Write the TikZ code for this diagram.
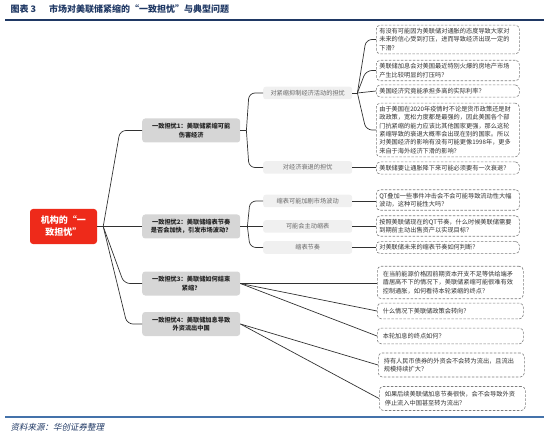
\documentclass[tikz,border=0pt]{standalone}
\usepackage{fontspec}
\setmainfont{Noto Sans CJK SC}
\newfontfamily\footfont[FakeSlant=0.2]{Noto Sans CJK SC}
\usetikzlibrary{positioning}
\definecolor{navy}{RGB}{31,56,100}
\definecolor{rulebl}{RGB}{68,114,170}
\definecolor{rootred}{RGB}{238,42,26}
\definecolor{lvone}{RGB}{214,214,214}
\definecolor{lvtwo}{RGB}{240,240,240}
\definecolor{txtgray}{RGB}{105,105,105}
\definecolor{linegray}{RGB}{50,50,50}
\definecolor{dashgray}{RGB}{125,125,125}

\tikzset{
  rootbox/.style={fill=rootred,text=white,rounded corners=3pt,font=\fontsize{9}{12}\selectfont\bfseries,align=center,minimum width=67pt,minimum height=35pt},
  worry/.style={fill=lvone,rounded corners=3pt,font=\fontsize{6.2}{8.3}\selectfont\bfseries,text=black!85,align=center,minimum width=98pt,minimum height=24pt,inner sep=2pt,anchor=west},
  topic/.style={fill=lvtwo,rounded corners=2.5pt,font=\fontsize{6.2}{8}\selectfont,text=txtgray,minimum width=89pt,minimum height=12.5pt,inner sep=1pt,anchor=west},
  qbox/.style={draw=dashgray,line width=0.6pt,dash pattern=on 2.5pt off 1.5pt,rounded corners=4pt,font=\fontsize{6.2}{8.3}\selectfont,text=black!80,align=left,text width=137pt,inner xsep=3pt,inner ysep=3.2pt,anchor=west},
  qwide/.style={qbox,text width=135pt,inner xsep=5.5pt,inner ysep=5pt},
  link/.style={draw=linegray,line width=0.7pt,rounded corners=6pt},
}

\begin{document}
\begin{tikzpicture}[x=1pt,y=-1pt]
  \useasboundingbox (0,0) rectangle (550,436);
  % title and rules
  \node[anchor=west,font=\fontsize{9}{11}\selectfont\bfseries,text=navy] (title) at (7,9) {图表 3\hspace{13pt}市场对美联储紧缩的“一致担忧”与典型问题};
  \draw[navy,line width=1.6pt] (5,20) -- (544,20);
  \draw[rulebl,line width=1.6pt] (5,417) -- (544,417);
  \node[anchor=west,font=\fontsize{8.5}{10}\footfont,text=navy] (source) at (7,427) {资料来源：华创证券整理};

  % root and worries
  \node[rootbox] (root) at (63.5,226.5) {机构的“一\\致担忧”};
  \node[worry] (w1) at (142,130.5) {一致担忧1：美联储紧缩可能\\伤害经济};
  \node[worry] (w2) at (142,226.5) {一致担忧2：美联储缩表节奏\\是否会加快，引发市场波动？};
  \node[worry] (w3) at (142,283.5) {一致担忧3：美联储如何结束\\紧缩？};
  \node[worry] (w4) at (142,324) {一致担忧4：美联储加息导致\\外资流出中国};

  % topics
  \node[topic] (t1) at (263,93) {对紧缩抑制经济活动的担忧};
  \node[topic] (t2) at (263,167.5) {对经济衰退的担忧};
  \node[topic] (t3) at (263,201) {缩表可能加剧市场波动};
  \node[topic] (t4) at (263,226.5) {可能会主动缩表};
  \node[topic] (t5) at (263,247.5) {缩表节奏};

  % questions
  \node[qbox] (q1) at (376,39.5) {有没有可能因为美联储对通胀的态度导致大家对\\未来的信心受到打压，进而导致经济出现一定的\\下滑？};
  \node[qbox] (q2) at (376,70.5) {美联储加息会对美国最近特别火爆的房地产市场\\产生比较明显的打压吗？};
  \node[qbox] (q3) at (376,91) {美国经济究竟能承担多高的实际利率？};
  \node[qbox] (q4) at (376,130) {由于美国在2020年疫情时不论是货币政策还是财\\政政策，宽松力度都是最强的，因此美国各个部\\门抗紧缩的能力应该比其他国家更强，那么这轮\\紧缩导致的衰退大概率会出现在别的国家。所以\\对美国经济的影响有没有可能更像1998年，更多\\来自于海外经济下滑的影响？};
  \node[qbox] (q5) at (376,168) {美联储要让通胀降下来可能必须要有一次衰退？};
  \node[qbox] (q6) at (376,200) {QT叠加一些事件冲击会不会可能导致流动性大幅\\波动，这种可能性大吗？};
  \node[qbox] (q7) at (376,226) {按照美联储现在的QT节奏，什么时候美联储需要\\到期前主动出售资产以实现目标？};
  \node[qbox] (q8) at (376,247.5) {对美联储未来的缩表节奏如何判断？};
  \node[qwide] (q9) at (377,282.5) {在当前能源价格因前期资本开支不足等供给端矛\\盾居高不下的情况下，美联储紧缩可能很难有效\\控制通胀，如何看待本轮紧缩的终点？};
  \node[qwide] (q10) at (377,311) {什么情况下美联储政策会转向？};
  \node[qwide] (q11) at (377,336) {本轮加息的终点如何？};
  \node[qwide] (q12) at (378,365) {持有人民币债券的外资会不会转为流出，且流出\\规模持续扩大？};
  \node[qwide] (q13) at (379,398.5) {如果后续美联储加息节奏很快，会不会导致外资\\停止流入中国甚至转为流出？};

  % connectors
  \coordinate (rb) at ([xshift=6pt]root.east);
  \draw[link] (root.east) -- (w2.west);
  \draw[link] (rb) -- ([xshift=-22pt]w1.west) -- (w1.west);
  \draw[link] (rb) -- ([xshift=-18pt]w3.west) -- (w3.west);
  \draw[link] (rb) -- ([xshift=-15pt]w4.west) -- (w4.west);

  \coordinate (b1) at ([xshift=6pt]w1.east);
  \draw[link] (w1.east) -- (b1);
  \draw[link] (b1) -- ([xshift=-14pt]t1.west) -- (t1.west);
  \draw[link] (b1) -- ([xshift=-14pt]t2.west) -- (t2.west);

  \coordinate (b2) at ([xshift=7pt]w2.east);
  \draw[link] (w2.east) -- (t4.west);
  \draw[link] (b2) -- ([xshift=-13pt]t3.west) -- (t3.west);
  \draw[link] (b2) -- ([xshift=-13pt]t5.west) -- (t5.west);

  \coordinate (ba) at ([xshift=5pt]t1.east);
  \draw[link] (t1.east) -- (ba);
  \draw[link] (ba) -- ([xshift=-10pt]q1.west) -- (q1.west);
  \draw[link] (ba) -- ([xshift=-10pt]q2.west) -- (q2.west);
  \draw[link] (ba) -- (q3.west);
  \draw[link] (ba) -- ([xshift=-10pt]q4.west) -- (q4.west);

  \draw[link] (t2.east) -- (t2.east -| q5.west);
  \draw[link] (t3.east) -- (t3.east -| q6.west);
  \draw[link] (t4.east) -- (t4.east -| q7.west);
  \draw[link] (t5.east) -- (t5.east -| q8.west);

  \draw[link] (w3.east) -- (w3.east -| q9.west);
  \draw[link] (w3.east) -- (q10.west);
  \draw[link] (w3.east) -- (q11.west);
  \draw[link] (w4.east) -- (q12.west);
  \draw[link] (w4.east) -- (q13.west);
\end{tikzpicture}
\end{document}
